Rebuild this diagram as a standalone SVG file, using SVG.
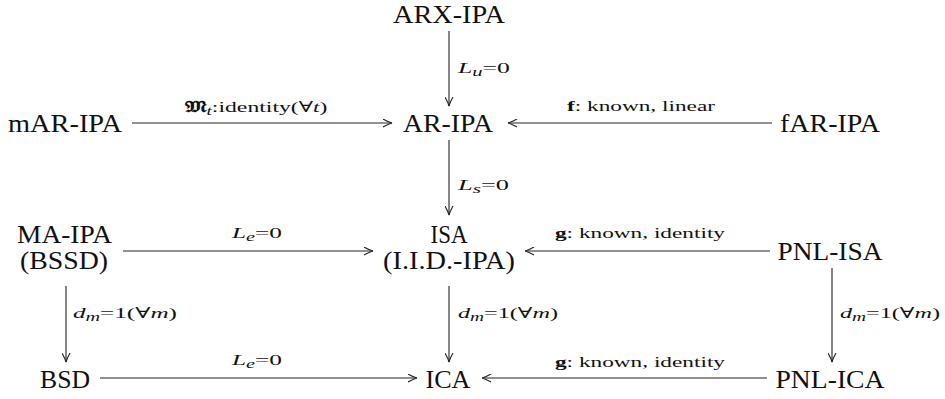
<svg xmlns="http://www.w3.org/2000/svg" width="945" height="399" viewBox="0 0 945 399">
<style>
.n{font-size:25px;fill:#111;text-anchor:middle}
.l{font-size:15px;fill:#111}
.c{text-anchor:middle}
.i{font-style:italic}
.s{font-size:12px;font-style:italic}
.b{font-weight:bold}
.e{fill:none;stroke:#222;stroke-width:1.1}
.g{fill:none;stroke:#6e6e6e;stroke-width:1.7}
</style>
<defs>
<marker id="ah" viewBox="0 0 10 9" markerUnits="userSpaceOnUse" markerWidth="10" markerHeight="9" refX="9.5" refY="4.5" orient="auto">
<path d="M0.5,0.5 Q6,3.6 9.5,4.5 Q6,5.4 0.5,8.5" fill="none" stroke="#222" stroke-width="1.1"/>
</marker>
</defs>
<g id="connectors" font-family="Liberation Serif, DejaVu Serif, serif">
<line class="e" x1="449" y1="31" x2="449" y2="106" marker-end="url(#ah)"/>
<line class="g" x1="132" y1="123" x2="392" y2="123" marker-end="url(#ah)"/>
<line class="g" x1="772" y1="123" x2="508" y2="123" marker-end="url(#ah)"/>
<line class="e" x1="449" y1="140" x2="449" y2="215" marker-end="url(#ah)"/>
<line class="e" x1="123" y1="251" x2="373" y2="251" marker-end="url(#ah)"/>
<line class="e" x1="770" y1="251" x2="525" y2="251" marker-end="url(#ah)"/>
<line class="e" x1="66" y1="286" x2="66" y2="362" marker-end="url(#ah)"/>
<line class="e" x1="449" y1="286" x2="449" y2="362" marker-end="url(#ah)"/>
<line class="g" x1="832" y1="268" x2="832" y2="362" marker-end="url(#ah)"/>
<line class="e" x1="100" y1="378" x2="417" y2="378" marker-end="url(#ah)"/>
<line class="e" x1="767" y1="378" x2="482" y2="378" marker-end="url(#ah)"/>
<text class="l c" x="256" y="112" textLength="143" lengthAdjust="spacingAndGlyphs"><tspan class="b">𝔐</tspan><tspan class="s" dy="3">t</tspan><tspan dy="-3">:identity(∀</tspan><tspan class="i">t</tspan>)</text>
<text class="l c" x="641" y="111" textLength="148" lengthAdjust="spacingAndGlyphs"><tspan class="b">f</tspan>: known, linear</text>
<text class="l" x="458" y="73" font-size="16" textLength="52" lengthAdjust="spacingAndGlyphs"><tspan class="i">L</tspan><tspan class="s" dy="3">u</tspan><tspan dy="-3">=0</tspan></text>
<text class="l" x="458" y="190" font-size="16" textLength="51" lengthAdjust="spacingAndGlyphs"><tspan class="i">L</tspan><tspan class="s" dy="3">s</tspan><tspan dy="-3">=0</tspan></text>
<text class="l c" x="257" y="238" font-size="16" textLength="50" lengthAdjust="spacingAndGlyphs"><tspan class="i">L</tspan><tspan class="s" dy="3">e</tspan><tspan dy="-3">=0</tspan></text>
<text class="l c" x="640" y="238" textLength="170" lengthAdjust="spacingAndGlyphs"><tspan class="b">g</tspan>: known, identity</text>
<text class="l" x="73" y="318" textLength="104" lengthAdjust="spacingAndGlyphs"><tspan class="i">d</tspan><tspan class="s" dy="3">m</tspan><tspan dy="-3">=1(∀</tspan><tspan class="i">m</tspan>)</text>
<text class="l" x="458" y="318" textLength="100" lengthAdjust="spacingAndGlyphs"><tspan class="i">d</tspan><tspan class="s" dy="3">m</tspan><tspan dy="-3">=1(∀</tspan><tspan class="i">m</tspan>)</text>
<text class="l" x="840" y="318" textLength="100" lengthAdjust="spacingAndGlyphs"><tspan class="i">d</tspan><tspan class="s" dy="3">m</tspan><tspan dy="-3">=1(∀</tspan><tspan class="i">m</tspan>)</text>
<text class="l c" x="257" y="365" font-size="16" textLength="50" lengthAdjust="spacingAndGlyphs"><tspan class="i">L</tspan><tspan class="s" dy="3">e</tspan><tspan dy="-3">=0</tspan></text>
<text class="l c" x="640" y="367" textLength="170" lengthAdjust="spacingAndGlyphs"><tspan class="b">g</tspan>: known, identity</text>
</g>
<g font-family="Liberation Serif, DejaVu Serif, serif">
<g id="arx-ipa"><text class="n" x="449" y="23" textLength="112" lengthAdjust="spacingAndGlyphs">ARX-IPA</text></g>
<g id="mar-ipa"><text class="n" x="65" y="132" textLength="114" lengthAdjust="spacingAndGlyphs">mAR-IPA</text></g>
<g id="ar-ipa"><text class="n" x="448" y="132" textLength="90" lengthAdjust="spacingAndGlyphs">AR-IPA</text></g>
<g id="far-ipa"><text class="n" x="830" y="132" textLength="100" lengthAdjust="spacingAndGlyphs">fAR-IPA</text></g>
<g id="ma-ipa"><text class="n" x="64.5" y="243" textLength="95" lengthAdjust="spacingAndGlyphs">MA-IPA</text><text class="n" x="64" y="269" textLength="88" lengthAdjust="spacingAndGlyphs">(BSSD)</text></g>
<g id="isa"><text class="n" x="449" y="243" textLength="37" lengthAdjust="spacingAndGlyphs">ISA</text><text class="n" x="449" y="269" textLength="132" lengthAdjust="spacingAndGlyphs">(I.I.D.-IPA)</text></g>
<g id="pnl-isa"><text class="n" x="830" y="260" textLength="105" lengthAdjust="spacingAndGlyphs">PNL-ISA</text></g>
<g id="bsd"><text class="n" x="65" y="388" textLength="50" lengthAdjust="spacingAndGlyphs">BSD</text></g>
<g id="ica"><text class="n" x="448" y="388" textLength="45" lengthAdjust="spacingAndGlyphs">ICA</text></g>
<g id="pnl-ica"><text class="n" x="830" y="388" textLength="109" lengthAdjust="spacingAndGlyphs">PNL-ICA</text></g>
</g>
</svg>
